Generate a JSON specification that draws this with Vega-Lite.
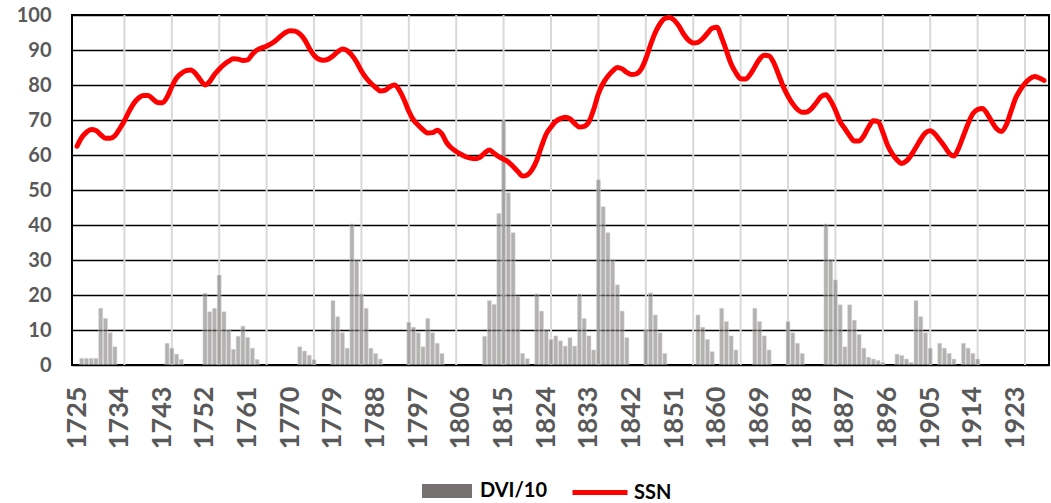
{
  "$schema": "https://vega.github.io/schema/vega-lite/v6.json",
  "width": 977,
  "height": 350,
  "autosize": {"type": "none"},
  "padding": {"left": 72, "top": 15, "right": 2, "bottom": 138},
  "background": "white",
  "config": {
    "view": {"stroke": "black", "strokeWidth": 2},
    "font": "Lato",
    "axisY": {
      "values": [0,10,20,30,40,50,60,70,80,90,100], "title": null, "tickCount": 11,
      "grid": true, "gridColor": "black", "gridWidth": 1.5, "ticks": false, "domain": false,
      "labelFontSize": 20, "labelFontWeight": "bold", "labelColor": "#595959", "labelPadding": 21, "labelFont": "Lato", "labelOverlap": false
    }
  },
  "datasets": {
    "grid": [{"year":1735},{"year":1745},{"year":1755},{"year":1765},{"year":1775},{"year":1785},{"year":1795},{"year":1805},{"year":1815},{"year":1825},{"year":1835},{"year":1845},{"year":1855},{"year":1865},{"year":1875},{"year":1885},{"year":1895},{"year":1905},{"year":1915},{"year":1925}],
    "dvi": [
      {"year":1726,"dvi":1.9},{"year":1727,"dvi":1.9},{"year":1728,"dvi":1.9},{"year":1729,"dvi":1.9},{"year":1730,"dvi":16.2},{"year":1731,"dvi":13.3},{"year":1732,"dvi":9.2},{"year":1733,"dvi":5.2},
      {"year":1744,"dvi":6.2},{"year":1745,"dvi":4.8},{"year":1746,"dvi":3.1},{"year":1747,"dvi":1.6},
      {"year":1752,"dvi":20.5},{"year":1753,"dvi":15.2},{"year":1754,"dvi":16.2},{"year":1755,"dvi":25.7},{"year":1756,"dvi":15.2},{"year":1757,"dvi":10},{"year":1758,"dvi":4.5},{"year":1759,"dvi":8.2},{"year":1760,"dvi":11.1},{"year":1761,"dvi":7.9},{"year":1762,"dvi":4.8},{"year":1763,"dvi":1.6},
      {"year":1772,"dvi":5.2},{"year":1773,"dvi":4.0},{"year":1774,"dvi":2.8},{"year":1775,"dvi":1.5},
      {"year":1779,"dvi":18.4},{"year":1780,"dvi":13.8},{"year":1781,"dvi":9.2},{"year":1782,"dvi":4.8},{"year":1783,"dvi":40.3},{"year":1784,"dvi":30.2},{"year":1785,"dvi":20.3},{"year":1786,"dvi":16.2},{"year":1787,"dvi":4.8},{"year":1788,"dvi":3.3},{"year":1789,"dvi":1.7},
      {"year":1795,"dvi":12.2},{"year":1796,"dvi":10.8},{"year":1797,"dvi":9.2},{"year":1798,"dvi":5.2},{"year":1799,"dvi":13.3},{"year":1800,"dvi":9.2},{"year":1801,"dvi":6.2},{"year":1802,"dvi":3.3},
      {"year":1811,"dvi":8.2},{"year":1812,"dvi":18.4},{"year":1813,"dvi":17.3},{"year":1814,"dvi":43.3},{"year":1815,"dvi":69.8},{"year":1816,"dvi":49.2},{"year":1817,"dvi":37.8},{"year":1818,"dvi":19.7},{"year":1819,"dvi":3.3},{"year":1820,"dvi":1.8},
      {"year":1822,"dvi":20.3},{"year":1823,"dvi":15.4},{"year":1824,"dvi":10.2},{"year":1825,"dvi":7.3},{"year":1826,"dvi":8.3},{"year":1827,"dvi":6.9},{"year":1828,"dvi":5.4},{"year":1829,"dvi":7.8},{"year":1830,"dvi":5.4},{"year":1831,"dvi":20.3},{"year":1832,"dvi":13.3},{"year":1833,"dvi":8.3},{"year":1834,"dvi":4.3},{"year":1835,"dvi":52.9},{"year":1836,"dvi":45.2},{"year":1837,"dvi":37.8},{"year":1838,"dvi":30.2},{"year":1839,"dvi":22.9},{"year":1840,"dvi":15.4},{"year":1841,"dvi":7.8},
      {"year":1845,"dvi":10.2},{"year":1846,"dvi":20.6},{"year":1847,"dvi":14.3},{"year":1848,"dvi":9.2},{"year":1849,"dvi":3.3},
      {"year":1856,"dvi":14.3},{"year":1857,"dvi":10.8},{"year":1858,"dvi":7.3},{"year":1859,"dvi":3.8},
      {"year":1861,"dvi":16.2},{"year":1862,"dvi":12.4},{"year":1863,"dvi":8.3},{"year":1864,"dvi":4.3},
      {"year":1868,"dvi":16.2},{"year":1869,"dvi":12.4},{"year":1870,"dvi":8.3},{"year":1871,"dvi":4.3},
      {"year":1875,"dvi":12.4},{"year":1876,"dvi":9.2},{"year":1877,"dvi":6.2},{"year":1878,"dvi":3.3},
      {"year":1883,"dvi":40.3},{"year":1884,"dvi":30.2},{"year":1885,"dvi":24.3},{"year":1886,"dvi":17.2},{"year":1887,"dvi":5.2},{"year":1888,"dvi":17.2},{"year":1889,"dvi":12.8},{"year":1890,"dvi":8.7},{"year":1891,"dvi":4.8},{"year":1892,"dvi":2.2},{"year":1893,"dvi":1.7},{"year":1894,"dvi":1.3},{"year":1895,"dvi":0.7},
      {"year":1898,"dvi":3.1},{"year":1899,"dvi":2.7},{"year":1900,"dvi":1.7},{"year":1901,"dvi":0.7},{"year":1902,"dvi":18.4},{"year":1903,"dvi":13.8},{"year":1904,"dvi":9.2},{"year":1905,"dvi":4.8},
      {"year":1907,"dvi":6.2},{"year":1908,"dvi":4.8},{"year":1909,"dvi":3.3},{"year":1910,"dvi":1.7},
      {"year":1912,"dvi":6.2},{"year":1913,"dvi":4.8},{"year":1914,"dvi":3.3},{"year":1915,"dvi":1.7}
    ],
    "ssn": [
      {"year":1725,"ssn":62.5},{"year":1726,"ssn":65},{"year":1727,"ssn":66.5},{"year":1728,"ssn":67.3},{"year":1729,"ssn":67},{"year":1730,"ssn":65.8},{"year":1731,"ssn":64.8},{"year":1732,"ssn":64.8},{"year":1733,"ssn":65.5},{"year":1734,"ssn":67.5},
      {"year":1735,"ssn":69.8},{"year":1736,"ssn":72.5},{"year":1737,"ssn":74.8},{"year":1738,"ssn":76.3},{"year":1739,"ssn":77},{"year":1740,"ssn":77},{"year":1741,"ssn":76},{"year":1742,"ssn":75},{"year":1743,"ssn":74.9},{"year":1744,"ssn":76.5},
      {"year":1745,"ssn":79.5},{"year":1746,"ssn":82},{"year":1747,"ssn":83.3},{"year":1748,"ssn":84.1},{"year":1749,"ssn":84.3},{"year":1750,"ssn":83.3},{"year":1751,"ssn":81.5},{"year":1752,"ssn":80},{"year":1753,"ssn":81},{"year":1754,"ssn":83},
      {"year":1755,"ssn":84.5},{"year":1756,"ssn":85.8},{"year":1757,"ssn":86.8},{"year":1758,"ssn":87.5},{"year":1759,"ssn":87.4},{"year":1760,"ssn":87},{"year":1761,"ssn":87.2},{"year":1762,"ssn":88.8},{"year":1763,"ssn":90},{"year":1764,"ssn":90.6},
      {"year":1765,"ssn":91.1},{"year":1766,"ssn":91.8},{"year":1767,"ssn":92.8},{"year":1768,"ssn":94},{"year":1769,"ssn":95},{"year":1770,"ssn":95.5},{"year":1771,"ssn":95.4},{"year":1772,"ssn":94.6},{"year":1773,"ssn":93},{"year":1774,"ssn":90.5},
      {"year":1775,"ssn":88.5},{"year":1776,"ssn":87.4},{"year":1777,"ssn":87.1},{"year":1778,"ssn":87.4},{"year":1779,"ssn":88.3},{"year":1780,"ssn":89.5},{"year":1781,"ssn":90.3},{"year":1782,"ssn":89.8},{"year":1783,"ssn":88.5},{"year":1784,"ssn":86.5},
      {"year":1785,"ssn":84},{"year":1786,"ssn":82},{"year":1787,"ssn":80.5},{"year":1788,"ssn":79.3},{"year":1789,"ssn":78.3},{"year":1790,"ssn":78.5},{"year":1791,"ssn":79.5},{"year":1792,"ssn":80},{"year":1793,"ssn":78.5},{"year":1794,"ssn":75.8},
      {"year":1795,"ssn":72.5},{"year":1796,"ssn":70},{"year":1797,"ssn":68.5},{"year":1798,"ssn":67.2},{"year":1799,"ssn":66.3},{"year":1800,"ssn":66.4},{"year":1801,"ssn":67.1},{"year":1802,"ssn":66},{"year":1803,"ssn":63.5},{"year":1804,"ssn":62},
      {"year":1805,"ssn":61},{"year":1806,"ssn":60.2},{"year":1807,"ssn":59.5},{"year":1808,"ssn":59.1},{"year":1809,"ssn":58.9},{"year":1810,"ssn":59.3},{"year":1811,"ssn":60.6},{"year":1812,"ssn":61.4},{"year":1813,"ssn":60.5},{"year":1814,"ssn":59.5},
      {"year":1815,"ssn":58.8},{"year":1816,"ssn":58},{"year":1817,"ssn":56.7},{"year":1818,"ssn":55.3},{"year":1819,"ssn":54},{"year":1820,"ssn":54.3},{"year":1821,"ssn":55.8},{"year":1822,"ssn":58.5},{"year":1823,"ssn":62.5},{"year":1824,"ssn":66},
      {"year":1825,"ssn":68},{"year":1826,"ssn":69.6},{"year":1827,"ssn":70.4},{"year":1828,"ssn":70.8},{"year":1829,"ssn":70.3},{"year":1830,"ssn":69},{"year":1831,"ssn":68},{"year":1832,"ssn":68.2},{"year":1833,"ssn":69.5},{"year":1834,"ssn":73},
      {"year":1835,"ssn":77.5},{"year":1836,"ssn":80.5},{"year":1837,"ssn":82.5},{"year":1838,"ssn":84},{"year":1839,"ssn":85},{"year":1840,"ssn":84.6},{"year":1841,"ssn":83.6},{"year":1842,"ssn":83},{"year":1843,"ssn":83.2},{"year":1844,"ssn":84.5},
      {"year":1845,"ssn":87.5},{"year":1846,"ssn":91.5},{"year":1847,"ssn":95},{"year":1848,"ssn":97.5},{"year":1849,"ssn":99},{"year":1850,"ssn":99.3},{"year":1851,"ssn":98.5},{"year":1852,"ssn":96.8},{"year":1853,"ssn":94.5},{"year":1854,"ssn":92.8},
      {"year":1855,"ssn":92},{"year":1856,"ssn":92.2},{"year":1857,"ssn":93.2},{"year":1858,"ssn":94.8},{"year":1859,"ssn":96.2},{"year":1860,"ssn":96.5},{"year":1861,"ssn":93.5},{"year":1862,"ssn":89.8},{"year":1863,"ssn":86},{"year":1864,"ssn":83.5},
      {"year":1865,"ssn":81.8},{"year":1866,"ssn":81.7},{"year":1867,"ssn":83},{"year":1868,"ssn":85.2},{"year":1869,"ssn":87.4},{"year":1870,"ssn":88.5},{"year":1871,"ssn":88.3},{"year":1872,"ssn":86.3},{"year":1873,"ssn":83},{"year":1874,"ssn":79.5},
      {"year":1875,"ssn":76.8},{"year":1876,"ssn":74.6},{"year":1877,"ssn":73},{"year":1878,"ssn":72.2},{"year":1879,"ssn":72.3},{"year":1880,"ssn":73.3},{"year":1881,"ssn":75},{"year":1882,"ssn":76.7},{"year":1883,"ssn":77.2},{"year":1884,"ssn":75.5},
      {"year":1885,"ssn":72.8},{"year":1886,"ssn":69.5},{"year":1887,"ssn":67.5},{"year":1888,"ssn":65.5},{"year":1889,"ssn":64},{"year":1890,"ssn":64},{"year":1891,"ssn":65.5},{"year":1892,"ssn":68},{"year":1893,"ssn":69.8},{"year":1894,"ssn":69.5},
      {"year":1895,"ssn":66.5},{"year":1896,"ssn":62.8},{"year":1897,"ssn":60.3},{"year":1898,"ssn":58.6},{"year":1899,"ssn":57.6},{"year":1900,"ssn":58.3},{"year":1901,"ssn":60},{"year":1902,"ssn":62.2},{"year":1903,"ssn":64.5},{"year":1904,"ssn":66.3},
      {"year":1905,"ssn":66.9},{"year":1906,"ssn":66},{"year":1907,"ssn":64.3},{"year":1908,"ssn":62.5},{"year":1909,"ssn":60.5},{"year":1910,"ssn":59.7},{"year":1911,"ssn":62},{"year":1912,"ssn":65.5},{"year":1913,"ssn":69},{"year":1914,"ssn":71.8},
      {"year":1915,"ssn":73},{"year":1916,"ssn":73.3},{"year":1917,"ssn":71.8},{"year":1918,"ssn":69.5},{"year":1919,"ssn":67.5},{"year":1920,"ssn":66.7},{"year":1921,"ssn":68.5},{"year":1922,"ssn":72.3},{"year":1923,"ssn":76.2},{"year":1924,"ssn":78.6},
      {"year":1925,"ssn":80.5},{"year":1926,"ssn":81.8},{"year":1927,"ssn":82.4},{"year":1928,"ssn":82},{"year":1929,"ssn":81.3}
    ]
  },
  "layer": [
    {
      "data": {"name": "grid"},
      "mark": {"type": "rule", "color": "#d9d9d9", "strokeWidth": 2},
      "encoding": {
        "x": {
          "field": "year", "type": "quantitative",
          "scale": {"domain": [1725, 1929], "nice": false, "zero": false},
          "axis": {
            "values": [1725,1734,1743,1752,1761,1770,1779,1788,1797,1806,1815,1824,1833,1842,1851,1860,1869,1878,1887,1896,1905,1914,1923],
            "format": "d", "title": null, "grid": false, "ticks": false, "domain": false,
            "labelAngle": -90, "labelFontSize": 27, "labelFontWeight": "bold", "labelColor": "#595959",
            "labelPadding": 21, "labelFlush": false, "labelOverlap": false, "labelFont": "Lato"
          }
        }
      }
    },
    {
      "data": {"name": "dvi"},
      "mark": {"type": "bar", "size": 4, "fillOpacity": 0.55, "stroke": "#d6d4d4", "strokeWidth": 0.5, "clip": true},
      "encoding": {
        "x": {"field": "year", "type": "quantitative"},
        "y": {
          "field": "dvi", "type": "quantitative",
          "scale": {"domain": [0, 100], "nice": false},
          "axis": {"values": [0,10,20,30,40,50,60,70,80,90,100], "title": null}
        },
        "fill": {
          "datum": "DVI/10",
          "scale": {"range": ["#767171"]},
          "legend": {
            "title": null, "orient": "none", "legendX": 349, "legendY": 450, "padding": 0,
            "symbolType": "M-1,-0.28H1V0.28H-1Z", "symbolSize": 2500, "symbolStrokeColor": "#b5b3b3", "symbolStrokeWidth": 2,
            "symbolOpacity": 1, "symbolFillColor": "#767171",
            "labelFontSize": 20, "labelFontWeight": "bold", "labelColor": "#000000", "labelFont": "Lato", "labelOffset": 7,
            "encode": {"symbols": {"update": {"fill": {"value": "#767171"}, "fillOpacity": {"value": 1}, "opacity": {"value": 1}}}}
          }
        }
      }
    },
    {
      "data": {"name": "ssn"},
      "mark": {"type": "line", "strokeWidth": 5, "interpolate": "monotone", "strokeCap": "round", "clip": true},
      "encoding": {
        "x": {"field": "year", "type": "quantitative"},
        "y": {"field": "ssn", "type": "quantitative", "axis": {"values": [0,10,20,30,40,50,60,70,80,90,100], "title": null}},
        "stroke": {
          "datum": "SSN",
          "scale": {"range": ["#ff0000"]},
          "legend": {
            "title": null, "orient": "none", "legendX": 498, "legendY": 447.5, "padding": 0,
            "symbolType": "stroke", "symbolSize": 3025, "symbolStrokeWidth": 5,
            "labelFontSize": 20, "labelFontWeight": "bold", "labelColor": "#000000", "labelFont": "Lato", "labelOffset": 4
          }
        }
      }
    }
  ]
}
